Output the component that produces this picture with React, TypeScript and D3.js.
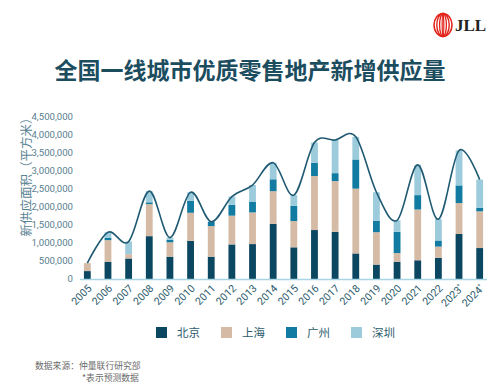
import * as d3 from "d3";

const years = ["2005", "2006", "2007", "2008", "2009", "2010", "2011", "2012", "2013", "2014", "2015", "2016", "2017", "2018", "2019", "2020", "2021", "2022", "2023*", "2024*"];
const beijing = [220000, 480000, 570000, 1190000, 620000, 1060000, 620000, 960000, 970000, 1530000, 880000, 1360000, 1310000, 710000, 400000, 480000, 520000, 590000, 1250000, 860000];
const shanghai = [220000, 600000, 120000, 890000, 400000, 780000, 850000, 800000, 880000, 910000, 730000, 1500000, 1410000, 1800000, 900000, 240000, 1410000, 310000, 860000, 1020000];
const guangzhou = [0, 60000, 0, 50000, 70000, 330000, 120000, 300000, 300000, 330000, 420000, 370000, 220000, 810000, 320000, 590000, 400000, 170000, 490000, 100000];
const shenzhen = [0, 160000, 350000, 310000, 60000, 240000, 0, 230000, 460000, 460000, 300000, 560000, 920000, 630000, 790000, 320000, 840000, 590000, 970000, 780000];
const cities = ["北京", "上海", "广州", "深圳"];
const yTicks = [0, 500000, 1000000, 1500000, 2000000, 2500000, 3000000, 3500000, 4000000, 4500000];

const colors = ["#0c4762", "#d5bba6", "#117ba1", "#9ccbdc"];
const cjk = "'Noto Sans CJK SC', 'Noto Sans', sans-serif";

export default function App() {
  const width = 500,
    height = 392;
  const table = years.map((y, i) => ({
    year: y,
    北京: beijing[i],
    上海: shanghai[i],
    广州: guangzhou[i],
    深圳: shenzhen[i],
  }));
  const stack = d3.stack<any>().keys(cities)(table);
  // the smoothed line follows the total of each year
  const totals = years.map((_, i) => beijing[i] + shanghai[i] + guangzhou[i] + shenzhen[i]);

  const x = d3.scaleBand().domain(years).range([77, 490]).paddingInner(0.67).paddingOuter(0.335);
  const y = d3.scaleLinear().domain([0, 4500000]).range([279, 117]);
  const fmt = d3.format(",");

  const line = d3
    .line<number>()
    .x((_, i) => x(years[i])! + x.bandwidth() / 2)
    .y((d) => y(d))
    .curve(d3.curveCardinal.tension(0));

  const legendX = d3.scalePoint().domain(cities).range([156, 351]);

  return (
    <svg width={width} height={height} style={{ position: "absolute", left: 0, top: 0, background: "#fff" }}>
      {/* logo */}
      <g transform="translate(443,25)" fill="none" stroke="#e2231a">
        <ellipse rx={9} ry={11.5} strokeWidth={1.6} />
        <ellipse rx={6.2} ry={11.5} strokeWidth={1.4} />
        <ellipse rx={3.4} ry={11.5} strokeWidth={1.3} />
        <ellipse rx={0.8} ry={11.5} strokeWidth={1.2} />
      </g>
      <text x={455} y={31} fontFamily="'Liberation Serif', serif" fontWeight="bold" fontSize={17} fill="#222">
        JLL
      </text>

      <text x={250} y={79} textAnchor="middle" fontFamily={cjk} fontWeight="bold" fontSize={23} fill="#1b4d5f">
        全国一线城市优质零售地产新增供应量
      </text>

      <text
        transform="translate(31,174) rotate(-90)"
        textAnchor="middle"
        fontFamily={cjk}
        fontSize={12.5}
        fill="#5a8393"
      >
        新供应面积（平方米）
      </text>

      {yTicks.map((t) => (
        <text key={t} x={73} y={y(t)} dy="0.35em" textAnchor="end" fontFamily="Roboto, sans-serif" fontSize={9.6} fill="#5a8090">
          {fmt(t)}
        </text>
      ))}

      {stack.map((s, si) => (
        <g key={s.key} fill={colors[si]}>
          {s.map((d, i) => (
            <rect key={i} x={x(years[i])} y={y(d[1])} width={x.bandwidth()} height={Math.max(0, y(d[0]) - y(d[1]))} />
          ))}
        </g>
      ))}

      <line x1={80} x2={487} y1={279.5} y2={279.5} stroke="#a8d5e3" strokeWidth={1.5} />

      <path d={line(totals) || ""} fill="none" stroke="#1f5a72" strokeWidth={1.6} />

      {years.map((yr) => {
        const cx = x(yr)! + x.bandwidth() / 2;
        const star = yr.endsWith("*");
        return (
          <text
            key={yr}
            transform={`translate(${cx + 5},${289}) rotate(-45)`}
            textAnchor="end"
            fontFamily="Roboto, sans-serif"
            fontSize={10.5}
            fill="#2b5a6b"
          >
            {yr.replace("*", "")}
            {star && (
              <tspan fontSize={6} dy={-4}>
                *
              </tspan>
            )}
          </text>
        );
      })}

      {cities.map((c, i) => (
        <g key={c} transform={`translate(${legendX(c)},327)`}>
          <rect width={11} height={11} fill={colors[i]} />
          <text x={21} y={10} fontFamily={cjk} fontSize={11.5} fill="#2e5c6d">
            {c}
          </text>
        </g>
      ))}

      <text x={35} y={369} fontFamily={cjk} fontSize={8.8} fill="#6b6b6b">
        数据来源：仲量联行研究部
      </text>
      <text x={82} y={381} fontFamily={cjk} fontSize={8.8} fill="#6b6b6b">
        *表示预测数据
      </text>
    </svg>
  );
}
